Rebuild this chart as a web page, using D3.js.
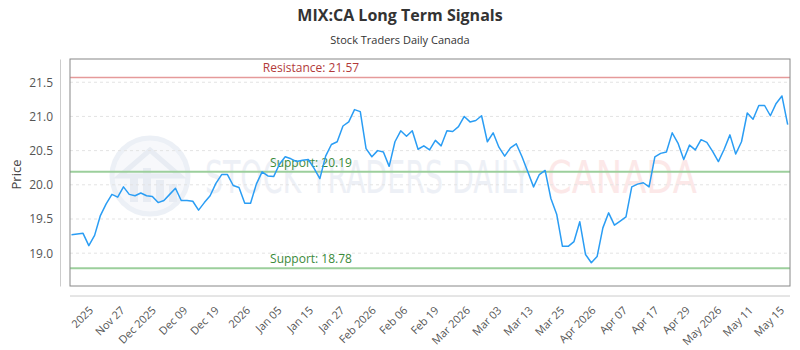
<!DOCTYPE html>
<html>
<head>
<meta charset="utf-8">
<script src="https://cdn.jsdelivr.net/npm/d3@7"></script>
<style>
  body { margin: 0; background: #fff; }
  svg { font-family: "Open Sans", "Noto Sans", sans-serif; }
</style>
</head>
<body>
<div id="chart"></div>
<script>
const WIDTH = 800;
const HEIGHT = 350;

// Daily closing prices
const prices = [
  19.27, 19.28, 19.29, 19.11, 19.26, 19.55, 19.72, 19.86, 19.82, 19.97,
  19.86, 19.84, 19.88, 19.84, 19.83, 19.74, 19.77, 19.86, 19.95, 19.77,
  19.77, 19.76, 19.63, 19.74, 19.84, 20.02, 20.15, 20.15, 19.99, 19.96,
  19.73, 19.73, 20.01, 20.19, 20.13, 20.12, 20.30, 20.41, 20.38, 20.34,
  20.36, 20.37, 20.24, 20.09, 20.42, 20.59, 20.63, 20.86, 20.92, 21.10,
  21.07, 20.53, 20.41, 20.50, 20.48, 20.27, 20.63, 20.79, 20.71, 20.79,
  20.52, 20.57, 20.51, 20.65, 20.57, 20.79, 20.78, 20.85, 21.00, 20.92,
  20.94, 21.01, 20.63, 20.76, 20.55, 20.42, 20.54, 20.60, 20.41, 20.19,
  19.97, 20.15, 20.21, 19.80, 19.57, 19.10, 19.10, 19.17, 19.46, 18.98,
  18.86, 18.95, 19.37, 19.59, 19.41, 19.47, 19.53, 19.97, 20.01, 20.03,
  19.97, 20.41, 20.46, 20.48, 20.76, 20.61, 20.37, 20.58, 20.51, 20.66,
  20.62, 20.49, 20.34, 20.52, 20.73, 20.45, 20.63, 21.05, 20.96, 21.16,
  21.16, 21.01, 21.19, 21.30, 20.88
];

const xTickLabels = [
  "2025", "Nov 27", "Dec 2025", "Dec 09", "Dec 19", "2026", "Jan 05", "Jan 15",
  "Jan 27", "Feb 2026", "Feb 06", "Feb 19", "Mar 2026", "Mar 03", "Mar 13",
  "Mar 25", "Apr 2026", "Apr 07", "Apr 17", "Apr 29", "May 2026", "May 11", "May 15"
];

const yTicks = [19.0, 19.5, 20.0, 20.5, 21.0, 21.5];

const levels = [
  { label: "Resistance", value: 21.57, kind: "resistance" },
  { label: "Support", value: 20.19, kind: "support" },
  { label: "Support", value: 18.78, kind: "support" }
];

const plot = { left: 70, right: 790, top: 59, bottom: 286 };

const svg = d3.select("#chart")
  .append("svg")
  .attr("width", WIDTH)
  .attr("height", HEIGHT);

const x = d3.scaleLinear()
  .domain([0, prices.length - 1])
  .range([71.5, 787.7]);

const y = d3.scaleLinear()
  .domain([18.52, 21.84])
  .range([plot.bottom, plot.top]);

const xLabelPos = d3.scalePoint()
  .domain(xTickLabels)
  .range([94, 785]);

// titles
svg.append("text")
  .attr("x", WIDTH / 2).attr("y", 21)
  .attr("text-anchor", "middle")
  .attr("font-size", 16).attr("font-weight", "bold")
  .attr("fill", "#333")
  .text("MIX:CA Long Term Signals");

svg.append("text")
  .attr("x", WIDTH / 2).attr("y", 44)
  .attr("text-anchor", "middle")
  .attr("font-size", 11).attr("fill", "#333")
  .text("Stock Traders Daily Canada");

// watermark
const wm = svg.append("g").attr("opacity", 0.55);
wm.append("circle")
  .attr("cx", 150).attr("cy", 176).attr("r", 38)
  .attr("fill", "#f1f4f9").attr("stroke", "#dde4ef").attr("stroke-width", 5);
wm.append("path")
  .attr("d", "M120,176 L150,150 L180,176 Z")
  .attr("fill", "none").attr("stroke", "#d6deea").attr("stroke-width", 5);
[[130, 176, 8, 26], [143, 168, 8, 34], [156, 180, 8, 22], [169, 184, 8, 18]].forEach(r => {
  wm.append("rect")
    .attr("x", r[0]).attr("y", r[1]).attr("width", r[2]).attr("height", r[3])
    .attr("fill", "#d6deea");
});
wm.append("text")
  .attr("x", 205).attr("y", 193)
  .attr("font-size", 44)
  .attr("font-family", "'DejaVu Sans Condensed', 'Liberation Sans Narrow', sans-serif")
  .attr("textLength", 325).attr("lengthAdjust", "spacingAndGlyphs")
  .attr("fill", "#dfe5ef")
  .text("STOCK TRADERS DAILY");
wm.append("text")
  .attr("x", 547).attr("y", 193)
  .attr("font-size", 44)
  .attr("font-family", "'DejaVu Sans Condensed', 'Liberation Sans Narrow', sans-serif")
  .attr("textLength", 150).attr("lengthAdjust", "spacingAndGlyphs")
  .attr("fill", "#fbd6d6")
  .text("CANADA");

// grid
svg.append("g")
  .selectAll("line")
  .data(yTicks)
  .join("line")
  .attr("x1", plot.left).attr("x2", plot.right)
  .attr("y1", d => y(d)).attr("y2", d => y(d))
  .attr("stroke", "#e3e3e3")
  .attr("stroke-dasharray", "3,3");

// y axis
const yAxis = svg.append("g")
  .attr("transform", `translate(60,0)`)
  .call(d3.axisLeft(y).tickValues(yTicks).tickFormat(d3.format(".1f")).tickSize(0).tickPadding(7));
yAxis.select(".domain").attr("stroke", "#ccc");
yAxis.selectAll("text").attr("font-size", 12).attr("fill", "#555")
  .attr("font-family", "'Open Sans', sans-serif");

svg.append("text")
  .attr("transform", `translate(21,${(plot.top + plot.bottom) / 2 + 2}) rotate(-90)`)
  .attr("text-anchor", "middle")
  .attr("font-size", 13).attr("fill", "#444")
  .text("Price");

// x axis
const xAxis = svg.append("g")
  .attr("transform", `translate(0,296)`);
xAxis.append("line")
  .attr("x1", plot.left).attr("x2", plot.right)
  .attr("stroke", "#ccc");
xAxis.selectAll("text")
  .data(xTickLabels)
  .join("text")
  .attr("transform", d => `translate(${xLabelPos(d)},15) rotate(-45)`)
  .attr("text-anchor", "end")
  .attr("font-size", 11).attr("fill", "#555")
  .text(d => d);

// support / resistance
const lv = svg.append("g");
lv.selectAll("line")
  .data(levels)
  .join("line")
  .attr("x1", plot.left).attr("x2", plot.right)
  .attr("y1", d => y(d.value)).attr("y2", d => y(d.value))
  .attr("stroke", d => d.kind === "resistance" ? "#e59a9a" : "#9ccf9c")
  .attr("stroke-width", d => d.kind === "resistance" ? 1.5 : 2);
lv.selectAll("text")
  .data(levels)
  .join("text")
  .attr("x", 311)
  .attr("y", d => y(d.value) - 5)
  .attr("text-anchor", "middle")
  .attr("font-size", 12)
  .attr("fill", d => d.kind === "resistance" ? "#b23a3a" : "#3a8a3a")
  .text(d => `${d.label}: ${d.value.toFixed(2)}`);

// price line
svg.append("path")
  .datum(prices)
  .attr("fill", "none")
  .attr("stroke", "#2a9df4")
  .attr("stroke-width", 1.5)
  .attr("stroke-linejoin", "round")
  .attr("d", d3.line().x((d, i) => x(i)).y(d => y(d)));

// plot frame
svg.append("rect")
  .attr("x", plot.left).attr("y", plot.top)
  .attr("width", plot.right - plot.left)
  .attr("height", plot.bottom - plot.top)
  .attr("fill", "none")
  .attr("stroke", "#888");
</script>
</body>
</html>
